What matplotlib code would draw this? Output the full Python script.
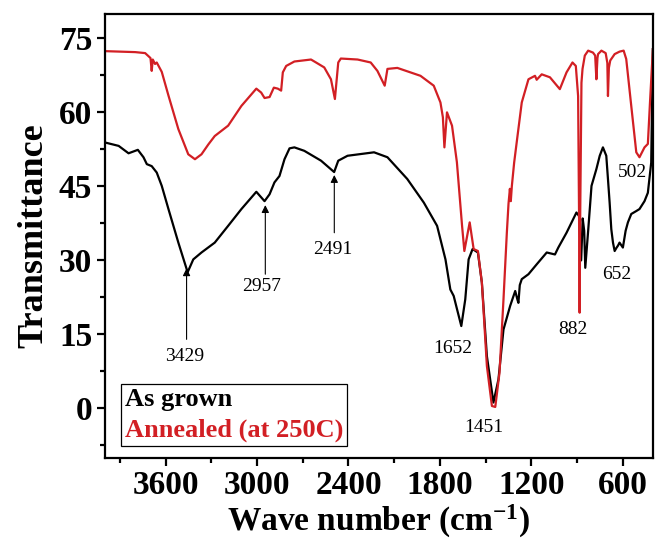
import matplotlib
matplotlib.use("Agg")
import matplotlib.pyplot as plt
from matplotlib.ticker import MultipleLocator

plt.rcParams['font.family'] = ['Liberation Serif', 'DejaVu Serif']
plt.rcParams['mathtext.fontset'] = 'custom'
plt.rcParams['mathtext.rm'] = 'Liberation Serif:bold'
plt.rcParams['mathtext.bf'] = 'Liberation Serif:bold'
plt.rcParams['mathtext.it'] = 'Liberation Serif:bold'

# ---- data ----
annealed_x = [4000, 3900, 3800, 3735, 3700, 3692, 3685, 3670, 3659, 3626, 3582, 3517, 3452,
              3408, 3365, 3320, 3278, 3190, 3103, 3005, 2973, 2951, 2918, 2890, 2864, 2842,
              2831, 2809, 2755, 2646, 2613, 2559, 2515, 2489, 2467, 2450, 2340, 2254, 2210,
              2162, 2144, 2079, 1927, 1840, 1796, 1780, 1770, 1753, 1720, 1688, 1654, 1639,
              1604, 1578, 1550, 1524, 1491, 1458, 1436, 1408, 1382, 1360, 1349, 1340, 1334,
              1327, 1312, 1290, 1262, 1218, 1175, 1164, 1131, 1077, 1012, 968, 929, 907, 892,
              886, 882, 878, 870, 863, 848, 826, 794, 780, 772, 765, 761, 739, 711, 700, 696,
              690, 681, 652, 620, 593, 576, 543, 510, 489, 456, 434, 420, 401]
annealed_y = [72.4, 72.3, 72.2, 72.0, 71.0, 68.4, 70.7, 69.8, 70.1, 68.2, 63.4, 56.6, 51.5,
              50.5, 51.5, 53.5, 55.2, 57.3, 61.3, 64.8, 64.0, 62.9, 63.1, 65.0, 64.8, 64.4,
              68.1, 69.4, 70.3, 70.7, 70.1, 69.1, 66.7, 62.7, 70.1, 70.9, 70.7, 70.1, 68.4,
              65.4, 68.8, 69.0, 67.4, 65.4, 62.0, 59.0, 52.9, 60.0, 57.3, 49.9, 37.0, 31.9,
              37.7, 32.3, 31.9, 25.5, 8.6, 0.5, 0.3, 7.3, 22.1, 35.6, 41.5, 44.5, 42.0,
              45.1, 49.8, 55.2, 62.0, 66.7, 67.4, 66.6, 67.7, 67.1, 64.7, 68.1, 70.1, 69.4, 63.3,
              40.0, 19.4, 40.0, 66.0, 68.8, 71.5, 72.5, 72.1, 71.5, 66.7, 71.0, 71.8, 72.5, 72.0, 70.0, 63.3,
              69.0, 70.5, 71.8, 72.3, 72.5, 70.8, 61.3, 51.9, 50.9, 52.9, 53.6, 62.0, 72.8]

grown_x = [4000, 3909, 3844, 3783, 3746, 3724, 3692, 3659, 3626, 3582, 3517, 3456, 3419,
           3365, 3278, 3190, 3103, 3005, 2951, 2918, 2886, 2853, 2820, 2787, 2755, 2690,
           2580, 2494, 2467, 2406, 2232, 2144, 2014, 1905, 1818, 1763, 1731, 1709, 1687,
           1659, 1633, 1611, 1585, 1550, 1524, 1491, 1448, 1415, 1382, 1338, 1305, 1290,
           1284, 1275, 1262, 1218, 1164, 1098, 1044, 1022, 968, 903, 886, 872, 862, 852,
           845, 826, 804, 772, 750, 729, 707, 696, 685, 674, 663, 652, 641, 630, 620, 598,
           580, 565, 543, 510, 489, 456, 434, 412, 401]
grown_y = [53.9, 53.2, 51.7, 52.4, 50.9, 49.5, 49.1, 47.8, 45.1, 40.4, 33.6, 27.6, 30.2,
           31.6, 33.6, 37.0, 40.4, 43.9, 42.0, 43.4, 45.8, 47.1, 50.5, 52.7, 52.9, 52.2,
           50.2, 47.9, 50.2, 51.2, 51.9, 50.9, 46.5, 41.7, 37.0, 30.2, 24.1, 22.8, 20.1,
           16.7, 22.1, 30.2, 32.3, 31.6, 25.5, 10.6, 1.2, 5.9, 16.0, 20.8, 23.8, 22.0,
           21.4, 25.0, 26.2, 27.2, 29.2, 31.6, 31.2, 32.6, 35.6, 39.7, 39.0, 30.0, 38.5, 36.0,
           28.5, 36.0, 45.1, 48.5, 51.2, 52.9, 51.2, 46.5, 41.7, 36.3, 33.6, 31.9, 32.5, 33.0, 33.6, 32.6,
           36.0, 37.7, 39.4, 40.0, 40.4, 42.0, 43.7, 49.8, 72.8]

series_labels = ["As grown", "Annealed (at 250C)"]
series_colors = ["#000000", "#d21f24"]

peak_labels = ["3429", "2957", "2491", "1652", "1451", "882", "652", "502"]
peak_text_x = [3476, 2970, 2503, 1717, 1513, 925, 641, 533]
peak_text_y = [10.5, 24.8, 32.3, 12.2, -3.9, 16.0, 27.2, 47.8]
arrow_x = [3463, 2946, 2493]
arrow_tip_y = [28.4, 41.2, 47.3]
arrow_tail_y = [14.0, 27.2, 35.6]

x_ticks = [3600, 3000, 2400, 1800, 1200, 600]
y_ticks = [0, 15, 30, 45, 60, 75]

# ---- figure ----
fig = plt.figure(figsize=(6.55, 5.45), dpi=100)
ax = fig.add_axes([0.160, 0.160, 0.837, 0.815])

ax.plot(grown_x, grown_y, color=series_colors[0], lw=1.6, label=series_labels[0])
ax.plot(annealed_x, annealed_y, color=series_colors[1], lw=1.6, label=series_labels[1])

ax.set_xlim(4000, 400)
ax.set_ylim(-10, 80)
ax.set_xticks(x_ticks)
ax.set_yticks(y_ticks)
ax.xaxis.set_minor_locator(MultipleLocator(300))
ax.yaxis.set_minor_locator(MultipleLocator(7.5))
ax.tick_params(which='major', direction='out', length=6, width=1.6, labelsize=24, pad=3)
ax.tick_params(which='minor', direction='out', length=3.5, width=1.6)
for lab in ax.get_xticklabels() + ax.get_yticklabels():
    lab.set_fontweight('bold')
for sp in ax.spines.values():
    sp.set_linewidth(1.6)

ax.set_xlabel(r"Wave number (cm$^{\mathrm{-1}}$)", fontsize=24, fontweight='bold', labelpad=1)
ax.set_ylabel("Transmittance", fontsize=26, fontweight='bold', labelpad=6)

for xa, tip, tail in zip(arrow_x, arrow_tip_y, arrow_tail_y):
    ax.annotate("", xy=(xa, tip), xytext=(xa, tail),
                arrowprops=dict(arrowstyle='-|>', color='k', lw=0.8, mutation_scale=11,
                                shrinkA=0, shrinkB=0))
for t, tx, ty in zip(peak_labels, peak_text_x, peak_text_y):
    ax.text(tx, ty, t, fontsize=14, ha='center', va='center')

leg = ax.legend(loc='lower left', bbox_to_anchor=(0.029, 0.027), handlelength=0,
                handletextpad=0, fancybox=False, edgecolor='k', framealpha=1,
                borderpad=0.15, labelspacing=0.25, borderaxespad=0,
                prop={'size': 19, 'weight': 'bold'})
leg.get_frame().set_linewidth(0.9)
for h in leg.legend_handles:
    h.set_visible(False)
for txt, c in zip(leg.get_texts(), series_colors):
    txt.set_color(c)

fig.savefig("out.png", dpi=100)
